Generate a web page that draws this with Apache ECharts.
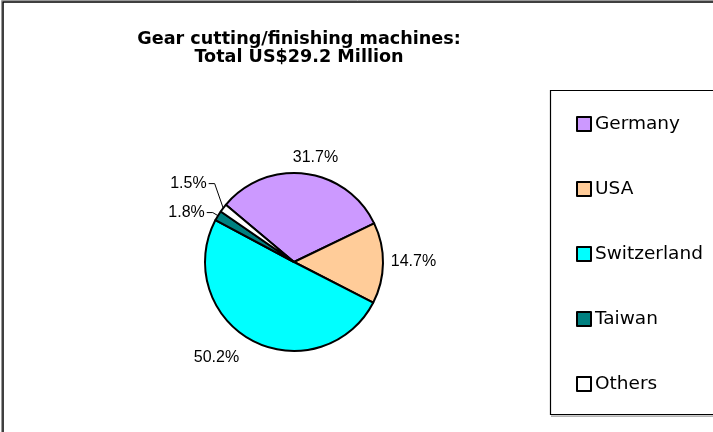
<!DOCTYPE html>
<html>
<head>
<meta charset="utf-8">
<script src="https://cdn.jsdelivr.net/npm/echarts@6/dist/echarts.min.js"></script>
<style>
  html, body { margin: 0; padding: 0; background: #fff; }
  #chart { width: 713px; height: 432px; }
</style>
</head>
<body>
<div id="chart"></div>
<script>
// Chart data
const titleLines = ['Gear cutting/finishing machines:', 'Total US$29.2 Million'];
const countries = ['Germany', 'USA', 'Switzerland', 'Taiwan', 'Others'];
const shares = [31.7, 14.7, 50.2, 1.8, 1.5];   // percent of total
const sliceColors = ['#CC99FF', '#FFCC99', '#00FFFF', '#008080', '#FFFFFF'];

// Pie geometry
const PIE_CX = 294, PIE_CY = 262, PIE_R = 89;
const FIRST_SLICE = 310;          // first slice angle, clockwise from 12 o'clock

// Percentage label placement: angle clockwise from 12 o'clock, distance of label centre from pie centre
const labelSpots = [
  { angle: 11.6, dist: 106.7 },
  { angle: 90.0, dist: 119.5 },
  { angle: 219.1, dist: 123.0 },
  { angle: 294.7, dist: 118.3 },
  { angle: 306.6, dist: 131.5 }
];

const total = shares.reduce((a, b) => a + b, 0);
const midAngles = [];
let acc = 0;
shares.forEach(v => { midAngles.push(FIRST_SLICE + (acc + v / 2) / total * 360); acc += v; });

function polar(angleDeg, r) {
  const a = angleDeg * Math.PI / 180;
  return [PIE_CX + r * Math.sin(a), PIE_CY - r * Math.cos(a)];
}

const pieData = countries.map((name, i) => ({
  name: name,
  value: shares[i],
  itemStyle: { color: sliceColors[i] },
  labelLine: { show: shares[i] < 3 }
}));

const chart = echarts.init(document.getElementById('chart'), null, { renderer: 'canvas' });

chart.setOption({
  animation: false,
  backgroundColor: '#ffffff',
  title: {
    text: titleLines.join('\n'),
    left: 294,
    top: 25,
    textAlign: 'center',
    textStyle: {
      fontFamily: 'DejaVu Sans',
      fontWeight: 'bold',
      fontSize: 17.6,
      lineHeight: 18.5,
      color: '#000'
    }
  },
  graphic: [
    // chart area frame
    { type: 'rect', z: 0, silent: true,
      shape: { x: 1.5, y: 0.5, width: 760, height: 480 },
      style: { fill: null, stroke: '#9a9a9a', lineWidth: 1 } },
    { type: 'rect', z: 0, silent: true,
      shape: { x: 3, y: 2, width: 760, height: 480 },
      style: { fill: null, stroke: '#000', lineWidth: 1.5 } },
    // legend frame with shadow
    { type: 'rect', z: 0, silent: true,
      shape: { x: 551, y: 415.5, width: 200, height: 1.2 },
      style: { fill: '#9a9a9a' } },
    { type: 'rect', z: 0, silent: true,
      shape: { x: 550.5, y: 90.5, width: 200, height: 324 },
      style: { fill: '#fff', stroke: '#000', lineWidth: 1.2 } }
  ],
  legend: {
    orient: 'vertical',
    left: 571,
    top: 109,
    itemGap: 45,
    itemWidth: 14,
    itemHeight: 14,
    icon: 'rect',
    data: countries,
    itemStyle: { borderColor: '#000', borderWidth: 2 },
    textStyle: {
      fontFamily: 'DejaVu Sans',
      fontSize: 18.5,
      lineHeight: 20,
      color: '#000',
      padding: [0, 0, 0, -1]
    }
  },
  series: [{
    type: 'pie',
    center: [PIE_CX, PIE_CY],
    radius: PIE_R,
    startAngle: 90 - FIRST_SLICE + 360,
    clockwise: true,
    avoidLabelOverlap: false,
    itemStyle: { borderColor: '#000', borderWidth: 2 },
    emphasis: { disabled: true },
    label: {
      show: true,
      position: 'outside',
      formatter: '{c}%',
      fontFamily: 'Liberation Sans',
      fontSize: 16,
      color: '#000'
    },
    labelLine: {
      length: 8,
      length2: 8,
      lineStyle: { color: '#000', width: 1 }
    },
    labelLayout: function (params) {
      const i = params.dataIndex;
      const spot = labelSpots[i];
      const c = polar(spot.angle, spot.dist);
      const out = { x: c[0], y: c[1], align: 'center', verticalAlign: 'middle' };
      if (shares[i] < 3) {
        const right = c[0] + params.labelRect.width / 2;
        out.labelLinePoints = [
          polar(midAngles[i], PIE_R),
          [right + 8, c[1]],
          [right + 2, c[1]]
        ];
      }
      return out;
    },
    data: pieData
  }]
});
</script>
</body>
</html>
